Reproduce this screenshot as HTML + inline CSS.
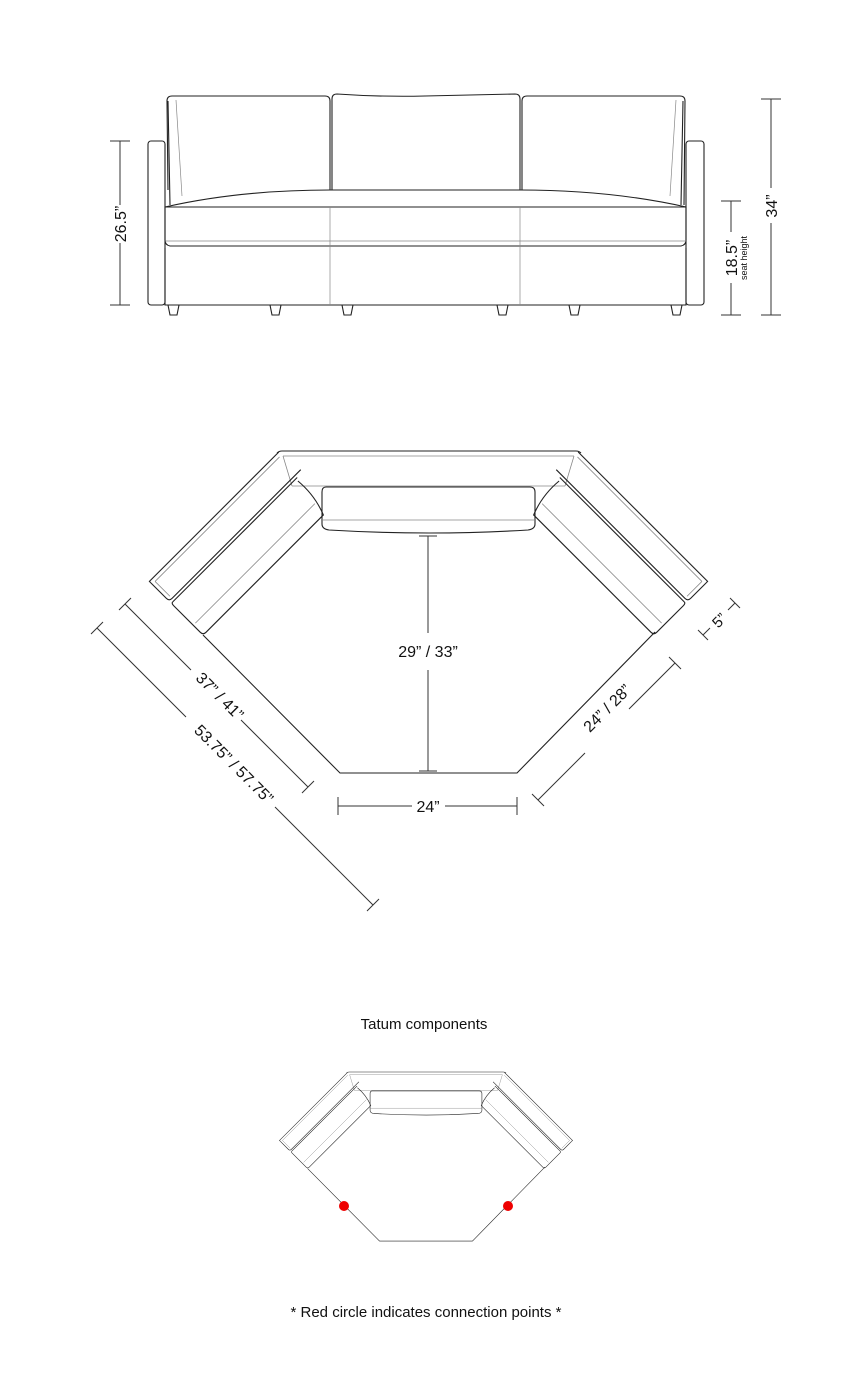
<!DOCTYPE html>
<html><head><meta charset="utf-8"><style>
html,body{margin:0;padding:0;background:#fff;}
svg{display:block;}
text{font-family:"Liberation Sans",sans-serif;fill:#111;}
</style></head><body>
<svg width="852" height="1400" viewBox="0 0 852 1400" xmlns="http://www.w3.org/2000/svg">
<g fill="none" stroke="#222" stroke-width="1.1">
 <rect x="148" y="141" width="17" height="164" rx="3"/>
 <rect x="686" y="141" width="18" height="164" rx="3"/>
 <path d="M168 190 L167 101 Q167 96 172 96 L325 96 Q330 96 330 101 L330 190"/>
 <path d="M332 190 L332 99 Q332 94 337 94 Q380 97 425 96 Q470 95 515 94 Q520 94 520 99 L520 190"/>
 <path d="M522 190 L522 101 Q522 96 527 96 L680 96 Q685 96 685 101 L684 205"/>
 <path d="M168 101 L170 205 M683 101 L681 205"/>
 <path d="M176 100 L182 196 M676 100 L670 196" stroke="#888" stroke-width="0.7"/>
 <path d="M165 207 Q240 190 330 190 L520 190 Q610 190 686 207 L686 240 Q686 245 681 246 L170 246 Q165 245 165 240 Z"/>
 <path d="M165 207 L686 207"/>
 <path d="M166 241 L686 241" stroke="#888" stroke-width="0.7"/>
 <path d="M165 248 L165 305 L686 305 L686 248"/>
 <path d="M330 207 L330 305 M520 207 L520 305" stroke="#888" stroke-width="0.7"/>
 <path d="M168 305 l2 10 h7 l2 -10 M270 305 l2 10 h7 l2 -10 M342 305 l2 10 h7 l2 -10 M497 305 l2 10 h7 l2 -10 M569 305 l2 10 h7 l2 -10 M671 305 l2 10 h7 l2 -10"/>
</g>
<g stroke="#333" stroke-width="1" fill="none">
 <path d="M110 141 H130 M110 305 H130 M120 141 V205 M120 243 V305"/>
 <path d="M721 201 H741 M721 315 H741 M731 201 V232 M731 283 V315"/>
 <path d="M761 99 H781 M761 315 H781 M771 99 V188 M771 223 V315"/>
</g>
<text transform="translate(126,224) rotate(-90)" font-size="16" text-anchor="middle">26.5”</text>
<text transform="translate(737,258) rotate(-90)" font-size="16" text-anchor="middle">18.5”</text>
<text transform="translate(747,258) rotate(-90)" font-size="9" text-anchor="middle">seat height</text>
<text transform="translate(777,206) rotate(-90)" font-size="16" text-anchor="middle">34”</text>

<defs>
 <g id="sofa" fill="none" stroke="#222" stroke-width="1.1">
  <path d="M277 453 Q279 451 282 451 L576 451 Q579 451 581 453"/>
  <path d="M283 456 L574 456 M283 456 L292 486 M574 456 L565 486 M292 486 L565 486" stroke="#888" stroke-width="0.8"/>
  <g id="wing">
   <g transform="translate(148,580) rotate(-45)">
    <path d="M0 4 L0 26 Q0 30 4 30 L186 30"/>
    <path d="M183 2 L0 2 L0 4" />
    <path d="M4 6 L180 6 M4 6 L4 27" stroke="#888" stroke-width="0.8"/>
    <path d="M2 33 Q0 33 0 36 L0 74 Q0 78 4 78 L170 78 Q178 58 176 36"/>
    <path d="M2 33 L178 33"/>
    <path d="M3 64 L172 64" stroke="#888" stroke-width="0.8"/>
   </g>
  </g>
  <use href="#wing" transform="translate(857,0) scale(-1,1)"/>
  <path d="M326 487 L530 487 Q535 487 535 492 L535 524 Q535 529 528 530 Q430 536 329 530 Q322 529 322 524 L322 492 Q322 487 326 487 Z"/>
  <path d="M322 520 L535 520" stroke="#888" stroke-width="0.8"/>
  <path d="M203 635 L340 773 L517 773 L655 632"/>
 </g>
</defs>
<use href="#sofa"/>
<g stroke="#333" stroke-width="1" fill="none">
 <path d="M419 536 H437 M419 771 H437 M428 536 V633 M428 670 V771"/>
 <path d="M338 797 V815 M517 797 V815 M338 806 H412 M445 806 H517"/>
 <path d="M119 610 L131 598 M125 604 L191 670 M241 720 L308 787 M302 793 L314 781"/>
 <path d="M91 634 L103 622 M97 628 L186 717 M275 807 L373 905 M367 911 L379 899"/>
 <path d="M532 794 L544 806 M538 800 L585 753 M629 709 L675 663 M669 657 L681 669"/>
 <path d="M698 630 L708 640 M703 635 L710 628 M728 610 L735 603 M730 598 L740 608"/>
</g>
<text x="428" y="657" font-size="16" text-anchor="middle">29” / 33”</text>
<text x="428" y="812" font-size="16" text-anchor="middle">24”</text>
<text transform="translate(216,700) rotate(45)" font-size="16" text-anchor="middle">37” / 41”</text>
<text transform="translate(230,768) rotate(45)" font-size="16" text-anchor="middle">53.75” / 57.75”</text>
<text transform="translate(611,712) rotate(-45)" font-size="16" text-anchor="middle">24” / 28”</text>
<text transform="translate(723,624) rotate(-45)" font-size="15" text-anchor="middle">5”</text>

<text x="424" y="1029" font-size="15" text-anchor="middle">Tatum components</text>
<g transform="translate(426,1072) scale(0.525) translate(-428.5,-451)">
 <use href="#sofa"/>
</g>
<circle cx="344" cy="1206" r="5" fill="#e00"/>
<circle cx="508" cy="1206" r="5" fill="#e00"/>
<text x="426" y="1317" font-size="15" text-anchor="middle">* Red circle indicates connection points *</text>
</svg>
</body></html>
